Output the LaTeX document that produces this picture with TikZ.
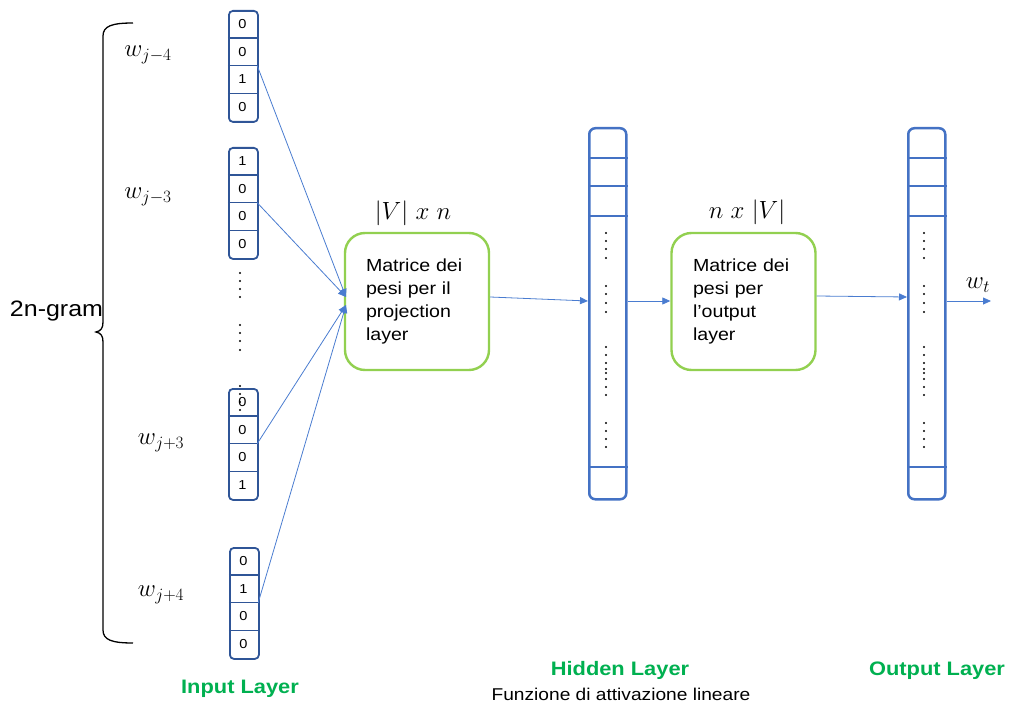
\documentclass[tikz,border=0pt]{standalone}
\usepackage{fontspec}
\setmainfont{Liberation Sans}[FakeStretch=1.12]
\usetikzlibrary{arrows.meta}
\definecolor{vblue}{HTML}{2F5597}
\definecolor{hblue}{HTML}{4472C4}
\definecolor{lblue}{HTML}{4A7CD0}
\definecolor{bgreen}{HTML}{92D050}
\definecolor{tgreen}{HTML}{00B050}
\newcommand{\onehot}[7]{%
  \node[vecbox, anchor=north west, minimum width=29pt, minimum height=111pt] (#1) at (#2,#3) {};
  \foreach \d [count=\i] in {#4,#5,#6,#7}
    \node[cell] (#1c\i) at ({#2+14.5},{#3+27.75*(\i-0.5)}) {\d};
  \foreach \i in {1,2,3}
    \draw[cellline] (#1c\i.south west) -- (#1c\i.south east);
}
\begin{document}
\begin{tikzpicture}[x=1pt,y=-1pt,
  vecbox/.style={draw=vblue, line width=1.8pt, rounded corners=4pt, inner sep=0pt},
  cell/.style={minimum width=29pt, minimum height=27.75pt, inner sep=0pt, font=\fontsize{13}{14}\selectfont},
  cellline/.style={draw=vblue, line width=1.3pt},
  bigvec/.style={draw=hblue, line width=2.5pt, rounded corners=6pt, inner sep=0pt, minimum width=37pt, minimum height=371pt, anchor=north west},
  bigline/.style={draw=hblue, line width=1.5pt},
  matbox/.style={draw=bgreen, line width=2.4pt, rounded corners=20pt, minimum width=144pt, minimum height=137pt, inner sep=0pt, align=left, font=\fontsize{17.5}{23}\selectfont},
  conn/.style={draw=lblue, line width=0.8pt, -{Triangle[length=8pt,width=7pt]}},
  layerlbl/.style={text=tgreen, font=\bfseries\fontsize{19.5}{22}\selectfont, inner sep=0pt, anchor=base},
  mathlbl/.style={font=\fontsize{25}{29}\selectfont, inner sep=0pt},
  dimlbl/.style={font=\fontsize{23.5}{27}\selectfont, inner sep=0pt},
  dot/.style={fill=black}
]
\useasboundingbox (0,0) rectangle (1010,706);

% brace
\draw[line width=1.3pt] (133,23) .. controls (112,23) and (103,26) .. (103,36)
  -- (103,322) .. controls (103,328) and (101,331) .. (96,332)
  .. controls (101,333) and (103,336) .. (103,342)
  -- (103,630) .. controls (103,640) and (112,643) .. (133,643);
\node[font=\fontsize{22.3}{26}\selectfont, inner sep=0pt, anchor=base] (gram) at (56.5,316) {2n-gram};

% word labels
\node[mathlbl] (l1) at (148,55) {$w_{j-4}$};
\node[mathlbl] (l2) at (148,197) {$w_{j-3}$};
\node[mathlbl] (l3) at (161,443) {$w_{j+3}$};
\node[mathlbl] (l4) at (161,595) {$w_{j+4}$};

% one-hot vectors
\onehot{va}{228}{10}{0}{0}{1}{0}
\onehot{vb}{228}{147}{1}{0}{0}{0}
\onehot{vc}{228}{388}{0}{0}{0}{1}
\onehot{vd}{229}{547}{0}{1}{0}{0}

% vertical dots in input
\foreach \y in {273,281,289,297,325,333,341,350,386,394,402,410}
  \fill[dot] (240,\y) circle (1.2pt);

% weight matrices
\node[matbox, text width=102pt] (p) at (417,301.5) {Matrice dei\\pesi per il\\projection\\layer};
\node[dimlbl] (pl) at (413,213) {$|V|\ x\ n$};
\node[matbox, text width=101pt] (q) at (743.5,301.5) {Matrice dei\\pesi per\\l’output\\layer};
\node[dimlbl] (ql) at (747,212) {$n\ x\ |V|$};

% hidden and output vectors
\node[bigvec] (h) at (588,127) {};
\node[bigvec] (o) at (907,127) {};
\foreach \n in {h,o}{
  \foreach \y in {158,186,216,467}
    \draw[bigline] (\n.west |- 0,\y) -- (\n.east |- 0,\y);
}
\foreach \x in {606,924}{
  \foreach \y in {233,241,249,258,286,294,303,312,347,355,363,369,373,379,387,395,423,431,439,447}
    \fill[dot] (\x,\y) circle (1.2pt);
}

% connectors
\coordinate (pin1) at (346,297);
\coordinate (pin2) at (346,305);
\draw[conn] (vac2.south east) -- (pin1);
\draw[conn] (vbc2.south east) -- (pin1);
\draw[conn] (vcc2.south east) -- (pin2);
\draw[conn] (vdc2.south east) -- (pin2);
\draw[conn] (p.east |- 0,297) -- (h.west |- 0,301);
\draw[conn] (h.east |- 0,301) -- (q.west |- 0,301);
\draw[conn] (q.east |- 0,296) -- (o.west |- 0,297);
\coordinate (wend) at (991,301);
\draw[conn] (o.east |- 0,301) -- (wend);
\node[mathlbl] (wt) at (978,285) {$w_t$};

% bottom labels
\node[layerlbl] (il) at (240,693) {Input Layer};
\node[layerlbl] (hl) at (620,675) {Hidden Layer};
\node[font=\fontsize{17.1}{20}\selectfont, inner sep=0pt, anchor=base] (fz) at (621,700) {Funzione di attivazione lineare};
\node[layerlbl] (ol) at (937,675) {Output Layer};
\end{tikzpicture}
\end{document}
